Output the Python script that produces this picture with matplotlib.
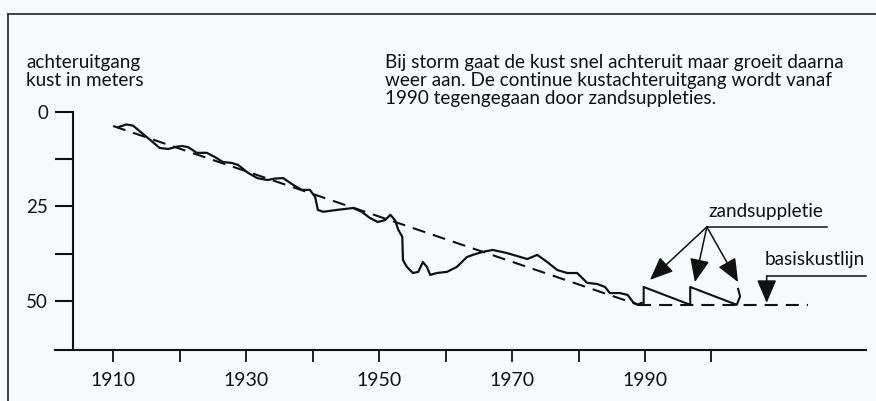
import matplotlib
matplotlib.use("Agg")
import matplotlib.pyplot as plt
from matplotlib.lines import Line2D

plt.rcParams["font.family"] = ["Lato", "DejaVu Sans"]
plt.rcParams["lines.scale_dashes"] = False

# coastline retreat (m)
years = [1910.8, 1912.0, 1913.0, 1914.3, 1915.6, 1917.0, 1918.3, 1919.5, 1920.4,
         1921.3, 1922.6, 1924.1, 1925.3, 1926.5, 1927.9, 1928.8, 1930.3, 1931.7,
         1933.2, 1934.4, 1935.6, 1937.1, 1938.4, 1939.6, 1940.4, 1940.8, 1941.6,
         1943.7, 1946.1, 1947.4, 1948.6, 1949.8, 1950.9, 1951.7, 1952.4, 1952.9,
         1953.5, 1953.6, 1954.2, 1955.1, 1955.9, 1956.6, 1957.2, 1957.7, 1958.7,
         1960.2, 1961.7, 1963.2, 1964.1, 1965.6, 1967.1, 1969.2, 1972.3, 1973.8,
         1975.3, 1976.8, 1978.3, 1979.8, 1981.3, 1982.8, 1984.0, 1984.7, 1986.2,
         1987.4, 1988.2, 1988.9, 1989.5]
retreat = [4.0, 3.3, 3.6, 5.5, 7.4, 9.5, 9.8, 9.2, 9.0,
           9.3, 10.8, 10.8, 11.9, 13.2, 13.5, 14.0, 16.1, 17.5,
           18.0, 17.6, 17.5, 19.3, 20.6, 20.6, 22.5, 25.9, 26.4,
           25.9, 25.4, 26.4, 28.0, 29.1, 28.6, 27.2, 28.6, 31.2,
           33.0, 39.2, 41.0, 42.6, 42.3, 39.7, 41.0, 43.1, 42.6,
           42.3, 41.0, 38.4, 37.8, 37.0, 36.5, 37.3, 38.9, 37.8,
           39.7, 41.8, 42.6, 42.6, 45.2, 45.5, 46.3, 47.9, 47.9,
           48.4, 50.3, 51.0, 50.5]

# sand nourishments after 1990
supp_years = [1989.8, 1989.8, 1996.8, 1996.8, 2003.8, 2004.3, 2004.0]
supp_vals = [51.0, 46.3, 51.0, 46.3, 51.0, 48.8, 46.8]

# trend and base coastline
trend_years = [1910.0, 1989.0]
trend_vals = [3.7, 51.0]
base_years = [1989.0, 2014.5]
base_vals = [51.0, 51.0]

ytick_vals = [0, 12.5, 25, 37.5, 50]
ytick_labels = ["0", "", "25", "", "50"]
xtick_vals = [1910, 1920, 1930, 1940, 1950, 1960, 1970, 1980, 1990, 2000]
xtick_labels = ["1910", "", "1930", "", "1950", "", "1970", "", "1990", ""]

bg = "#f6fafa"
ink = "#111111"
W, H = 876, 401
fig = plt.figure(figsize=(W / 100, H / 100), dpi=100, facecolor=bg)
ax = fig.add_axes([0, 0, 1, 1], facecolor=bg)
ax.set_xlim(1893.0, 2024.74)
ax.set_ylim(76.46, -29.63)

ax.plot(years, retreat, color=ink, lw=1.6, solid_joinstyle="round")
ax.plot(supp_years, supp_vals, color=ink, lw=1.5)
ax.plot(trend_years, trend_vals, color=ink, lw=1.5, dashes=(9.4, 5.8))
ax.plot(base_years, base_vals, color=ink, lw=1.5, dashes=(9.4, 5.8))

for s in ["top", "right"]:
    ax.spines[s].set_visible(False)
ax.spines["left"].set_position(("data", 1904))
ax.spines["left"].set_bounds(0, 63)
ax.spines["bottom"].set_position(("data", 63))
ax.spines["bottom"].set_bounds(1901.3, 2023.2)
for s in ["left", "bottom"]:
    ax.spines[s].set_linewidth(1.5)
    ax.spines[s].set_color(ink)

ax.set_yticks(ytick_vals, ytick_labels)
ax.set_xticks(xtick_vals, xtick_labels)
ax.tick_params(axis="y", direction="out", length=13, width=1.5, pad=5,
               labelsize=13.5, colors=ink)
ax.tick_params(axis="x", direction="out", length=8.6, width=1.3, pad=7,
               labelsize=14, colors=ink)


def fx(px):
    return px / W


def fy(py):
    return 1 - py / H


txt = dict(transform=ax.transAxes, fontsize=13.6, color=ink, va="baseline")
ax.text(fx(26), fy(68), "achteruitgang", **txt)
ax.text(fx(26), fy(86), "kust in meters", **txt)
ax.text(fx(385), fy(68), "Bij storm gaat de kust snel achteruit maar groeit daarna", **txt)
ax.text(fx(385), fy(86), "weer aan. De continue kustachteruitgang wordt vanaf", **txt)
ax.text(fx(385), fy(104), "1990 tegengegaan door zandsuppleties.", **txt)
ax.text(fx(708), fy(217), "zandsuppletie", **txt)
ax.text(fx(765), fy(265), "basiskustlijn", **txt)

arrow = dict(arrowstyle="-|>,head_length=1.3,head_width=0.55", color=ink,
             lw=1.1, mutation_scale=11, shrinkA=0, shrinkB=0)
ax.plot([1999.3, 2017.4], [30.4, 30.4], color=ink, lw=1.1)
for tx, ty in [(1990.75, 44.4), (1997.5, 45.0), (2004.0, 45.0)]:
    ax.annotate("", xy=(tx, ty), xytext=(1999.3, 30.4), arrowprops=arrow)
ax.plot([2008.3, 2023.2], [43.4, 43.4], color=ink, lw=1.1)
ax.annotate("", xy=(2008.3, 50.5), xytext=(2008.3, 43.4), arrowprops=arrow)

# frame around the figure
fig.add_artist(Line2D([fx(8), fx(8)], [0, fy(14)], color="#333333", lw=1.3))
fig.add_artist(Line2D([fx(8), 1], [fy(14), fy(14)], color="#333333", lw=1.3))

fig.savefig("out.png", dpi=100, facecolor=bg)
